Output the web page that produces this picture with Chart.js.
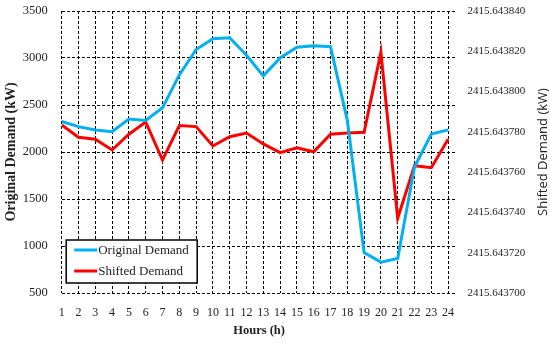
<!DOCTYPE html>
<html><head><meta charset="utf-8">
<script src="https://cdn.jsdelivr.net/npm/chart.js@4.4.0/dist/chart.umd.min.js"></script>
<style>html,body{margin:0;padding:0;background:#fff;}canvas{display:block;}</style>
</head><body>
<canvas id="c" width="550" height="343"></canvas>
<script>
// ---- data ----
const hours = [1,2,3,4,5,6,7,8,9,10,11,12,13,14,15,16,17,18,19,20,21,22,23,24];
const originalDemand = [2325,2270,2235,2215,2350,2335,2470,2820,3090,3205,3215,3030,2810,3000,3115,3130,3120,2340,930,828,868,1840,2190,2235];
const shiftedDemand = [
  2415.6437834,2415.6437773,2415.6437763,2415.6437710,2415.6437788,2415.6437849,
  2415.6437660,2415.6437831,2415.6437826,2415.6437730,2415.6437776,2415.6437794,
  2415.6437740,2415.6437697,2415.6437721,2415.6437701,2415.6437788,2415.6437794,
  2415.6437798,2415.6438195,2415.6437371,2415.6437632,2415.6437622,2415.6437763];
const seriesNames = ['Original Demand','Shifted Demand'];
const leftAxisTicks = [500,1000,1500,2000,2500,3000,3500];
const rightAxisTicks = [2415.643700,2415.643720,2415.643740,2415.643760,2415.643780,2415.643800,2415.643820,2415.643840];
const xTitle = 'Hours (h)';
const leftTitle = 'Original Demand (kW)';
const rightTitle = 'Shifted Demand (kW)';

const serif = '"Liberation Serif", "Times New Roman", serif';
const inkColor = '#222';
const gridOpts = {color:'#000', lineWidth:1, drawTicks:false};
const dashedBorder = {display:false, dash:[3,2]};

const customDraw = {
  id:'customDraw',
  afterDraw(chart){
    const ctx = chart.ctx, ca = chart.chartArea;
    ctx.save();
    // legend box
    const bx = ca.left + 4.5, by = ca.bottom - 53, bw = 131, bh = 43;
    ctx.fillStyle = '#fff';
    ctx.fillRect(bx, by, bw, bh);
    ctx.lineWidth = 1.5;
    ctx.strokeStyle = '#000';
    ctx.strokeRect(bx, by, bw, bh);
    chart.data.datasets.forEach((ds, i) => {
      const y = by + 10 + i * 21;
      ctx.beginPath();
      ctx.strokeStyle = ds.borderColor;
      ctx.lineWidth = 3;
      ctx.moveTo(bx + 8, y);
      ctx.lineTo(bx + 31, y);
      ctx.stroke();
      ctx.fillStyle = inkColor;
      ctx.font = '13px ' + serif;
      ctx.textAlign = 'left';
      ctx.textBaseline = 'middle';
      ctx.fillText(ds.label, bx + 32, y + 0.5);
    });
    // right axis title, reading bottom to top
    ctx.translate(543, (ca.top + ca.bottom) / 2);
    ctx.rotate(-Math.PI / 2);
    ctx.fillStyle = inkColor;
    ctx.font = '13px "Open Sans", sans-serif';
    ctx.textAlign = 'center';
    ctx.textBaseline = 'middle';
    ctx.fillText(rightTitle, 0, 0);
    ctx.restore();
  }
};

new Chart(document.getElementById('c'), {
  type:'line',
  data:{
    datasets:[
      {label:seriesNames[0], data:hours.map((h,i)=>({x:h,y:originalDemand[i]})), yAxisID:'y',
       borderColor:'#00B0F0', backgroundColor:'#00B0F0', borderWidth:3, pointRadius:0, tension:0},
      {label:seriesNames[1], data:hours.map((h,i)=>({x:h,y:shiftedDemand[i]})), yAxisID:'y2',
       borderColor:'#FF0000', backgroundColor:'#FF0000', borderWidth:3, pointRadius:0, tension:0}
    ]
  },
  options:{
    responsive:false, animation:false, devicePixelRatio:1,
    layout:{padding:{top:11, left:0, right:0, bottom:0}},
    plugins:{legend:{display:false}, tooltip:{enabled:false}},
    scales:{
      x:{type:'linear', min:hours[0], max:hours[hours.length-1]+0.5,
         afterFit(s){ s.height = 50; s.paddingLeft = 0; s.paddingRight = 0; },
         ticks:{stepSize:1, includeBounds:false, autoSkip:false, maxRotation:0, padding:13,
                color:inkColor, font:{family:serif, size:12}, callback:(v)=>String(v)},
         grid:gridOpts,
         border:dashedBorder,
         title:{display:true, text:xTitle, color:inkColor, padding:{top:0,bottom:5},
                font:{family:serif, size:12.5, weight:'bold'}}},
      y:{position:'left', min:leftAxisTicks[0], max:leftAxisTicks[leftAxisTicks.length-1],
         afterFit(s){ s.width = 61.7; s.paddingTop = 0; s.paddingBottom = 0; },
         afterBuildTicks(s){ s.ticks = leftAxisTicks.map(v=>({value:v})); },
         ticks:{padding:14, color:inkColor, font:{family:serif, size:12.5}, callback:(v)=>String(v)},
         grid:gridOpts,
         border:dashedBorder,
         title:{display:true, text:leftTitle, color:inkColor, padding:{top:3,bottom:0},
                font:{family:serif, size:14, weight:'bold'}}},
      y2:{position:'right', min:rightAxisTicks[0], max:rightAxisTicks[rightAxisTicks.length-1],
         afterFit(s){ s.width = 93.5; s.paddingTop = 0; s.paddingBottom = 0; },
         afterBuildTicks(s){ s.ticks = rightAxisTicks.map(v=>({value:v})); },
         ticks:{padding:11, color:inkColor, font:{family:serif, size:11},
                callback:(v)=>Number(v).toFixed(6)},
         grid:{display:false, drawTicks:false},
         border:{display:false}}
    }
  },
  plugins:[customDraw]
});
</script>
</body></html>
